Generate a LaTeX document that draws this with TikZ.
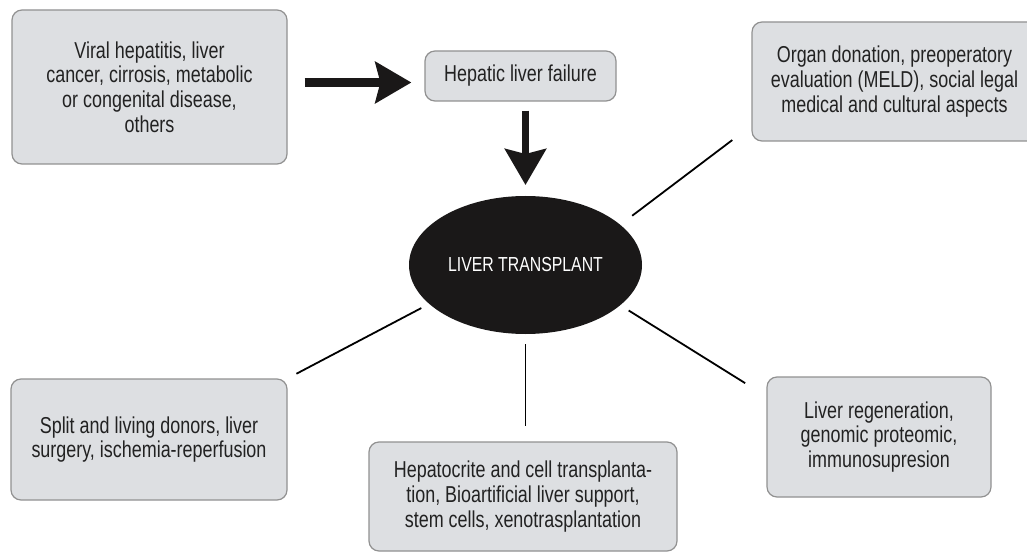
\documentclass[tikz,border=0pt]{standalone}
\usepackage{fontspec}
\setmainfont{Liberation Sans}[FakeStretch=0.78]
\usepackage{tikz}
\usetikzlibrary{calc}
\usetikzlibrary{shapes}
\usetikzlibrary{arrows.meta}

\definecolor{boxgray}{RGB}{221,223,226}
\definecolor{edgegray}{RGB}{145,145,145}
\definecolor{inkgray}{RGB}{34,34,34}
\definecolor{blob}{RGB}{26,24,24}

\tikzset{
	topic/.style={draw=edgegray,line width=1.2pt,fill=boxgray,rounded corners=10pt,align=center,text=inkgray,font=\fontsize{23}{24.8}\selectfont,inner sep=0pt},
	hub/.style={ellipse,fill=blob,text=white,inner sep=0pt,outer sep=0pt,font=\fontsize{20.3}{22}\selectfont},
	spoke/.style={line width=1.8pt,black},
	bigarrow/.style={line width=9pt,blob,-{Stealth[length=36pt,width=41pt,inset=5pt]}}
}

\begin{document}
\begin{tikzpicture}[x=1pt,y=-1pt]
	\useasboundingbox (0,0) rectangle (1027,553);
	\node[topic,minimum width=275pt,minimum height=154pt] (cause) at (149.5,87) {Viral hepatitis, liver\\cancer, cirrosis, metabolic\\or congenital disease,\\others};
	\node[topic,minimum width=191pt,minimum height=50pt] (failure) at (520.5,76) {Hepatic liver failure};
	\node[topic,minimum width=285pt,minimum height=119pt] (organ) at (894.5,81.5) {Organ donation, preoperatory\\evaluation (MELD), social legal\\medical and cultural aspects};
	\node[hub,minimum width=233pt,minimum height=138pt] (liver) at (525.5,265) {LIVER TRANSPLANT};
	\node[topic,minimum width=276pt,minimum height=121pt] (split) at (149,439.5) {Split and living donors, liver\\surgery, ischemia-reperfusion};
	\node[topic,minimum width=308pt,minimum height=109pt] (cells) at (523,496.5) {Hepatocrite and cell transplanta-\\tion, Bioartificial liver support,\\stem cells, xenotrasplantation};
	\node[topic,minimum width=224pt,minimum height=120pt] (regen) at (879,437) {Liver regeneration,\\genomic proteomic,\\immunosupresion};
	% arrows
	\draw[bigarrow,shorten <=17pt,shorten >=13pt] ($(cause.east)+(0,-4.5)$) -- ($(cause.east -| failure.west)+(0,-4.5)$);
	\draw[bigarrow,line width=7pt,shorten <=9pt,shorten >=11pt] (liver.north |- failure.south) -- (liver.north);
	% spokes
	\draw[spoke,shorten <=15pt,shorten >=24pt] (liver.23) -- ($(organ.south west)+(0,-16)$);
	\draw[spoke,shorten <=9pt,shorten >=10pt] (liver.202) -- (split.north east);
	\draw[spoke,shorten <=10pt,shorten >=15pt] (liver.south) -- (liver.south |- cells.north);
	\draw[spoke,shorten <=10pt,shorten >=25pt] (liver.-23) -- ($(regen.north west)+(0,20)$);
\end{tikzpicture}
\end{document}
